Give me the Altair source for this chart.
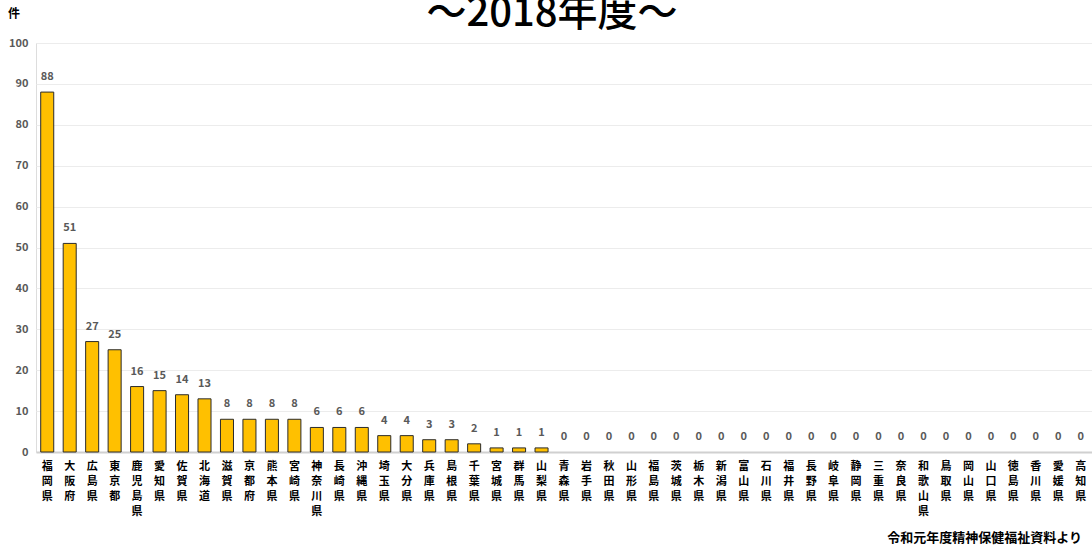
import altair as alt
import pandas as pd

prefectures = ["福岡県", "大阪府", "広島県", "東京都", "鹿児島県", "愛知県", "佐賀県", "北海道",
               "滋賀県", "京都府", "熊本県", "宮崎県", "神奈川県", "長崎県", "沖縄県", "埼玉県",
               "大分県", "兵庫県", "島根県", "千葉県", "宮城県", "群馬県", "山梨県", "青森県",
               "岩手県", "秋田県", "山形県", "福島県", "茨城県", "栃木県", "新潟県", "富山県",
               "石川県", "福井県", "長野県", "岐阜県", "静岡県", "三重県", "奈良県", "和歌山県",
               "鳥取県", "岡山県", "山口県", "徳島県", "香川県", "愛媛県", "高知県"]
counts = [88, 51, 27, 25, 16, 15, 14, 13, 8, 8, 8, 8, 6, 6, 6, 4, 4, 3, 3, 2, 1, 1, 1,
          0, 0, 0, 0, 0, 0, 0, 0, 0, 0, 0, 0, 0, 0, 0, 0, 0, 0, 0, 0, 0, 0, 0, 0]
title_text = "～2018年度～"
unit_text = "件"
source_text = "令和元年度精神保健福祉資料より"

FONT = "Noto Sans CJK JP"
df = pd.DataFrame({"pref": prefectures, "count": counts})

W, H = 1056, 409

xenc = alt.X("pref:N", sort=prefectures, title=None,
             scale=alt.Scale(paddingInner=0.42, paddingOuter=0.21),
             axis=alt.Axis(labelAngle=0, labelExpr="split(datum.label, '')",
                           labelFont=FONT, labelFontSize=11, labelFontWeight="bold",
                           labelColor="#000000", labelLineHeight=15, labelPadding=8,
                           labelBaseline="top", ticks=False, domainColor="#d0d0d0",
                           domainWidth=2, grid=False))
yenc = alt.Y("count:Q", title=None,
             scale=alt.Scale(domain=[0, 100], nice=False),
             axis=alt.Axis(values=list(range(0, 101, 10)), labelFont=FONT, labelFontSize=11,
                           labelFontWeight="bold", labelColor="#595959", labelPadding=8,
                           ticks=False, domain=False, gridColor="#ececec", gridWidth=1))

base = alt.Chart(df)
bars = base.mark_bar(color="#FFC000", stroke="#2b2b2b", strokeWidth=1).encode(
    x=xenc, y=yenc).transform_filter("datum.count > 0")
labels = base.mark_text(font=FONT, fontSize=11, fontWeight="bold", color="#595959",
                        baseline="middle", dy=-15).encode(
    x=alt.X("pref:N", sort=prefectures), y="count:Q", text="count:Q")

title = alt.Chart(pd.DataFrame({"t": [title_text]})).mark_text(
    font=FONT, fontSize=40, fontWeight=500, color="#000000", baseline="alphabetic",
    align="center").encode(text="t:N", x=alt.value(516), y=alt.value(-17))
unit = alt.Chart(pd.DataFrame({"t": [unit_text]})).mark_text(
    font=FONT, fontSize=12, fontWeight="bold", color="#000000", baseline="middle",
    align="center").encode(text="t:N", x=alt.value(-22), y=alt.value(-29))
source = alt.Chart(pd.DataFrame({"t": [source_text]})).mark_text(
    font=FONT, fontSize=13, fontWeight="bold", color="#000000", baseline="middle",
    align="right").encode(text="t:N", x=alt.value(1046), y=alt.value(495))

chart = alt.layer(bars, labels, title, unit, source).properties(
    width=W, height=H, autosize="none",
    padding={"left": 36, "top": 43, "right": 0, "bottom": 99}
).configure_view(stroke=None).configure(background="white")

chart.save("out.html", embed_options={"renderer": "svg", "actions": False})
